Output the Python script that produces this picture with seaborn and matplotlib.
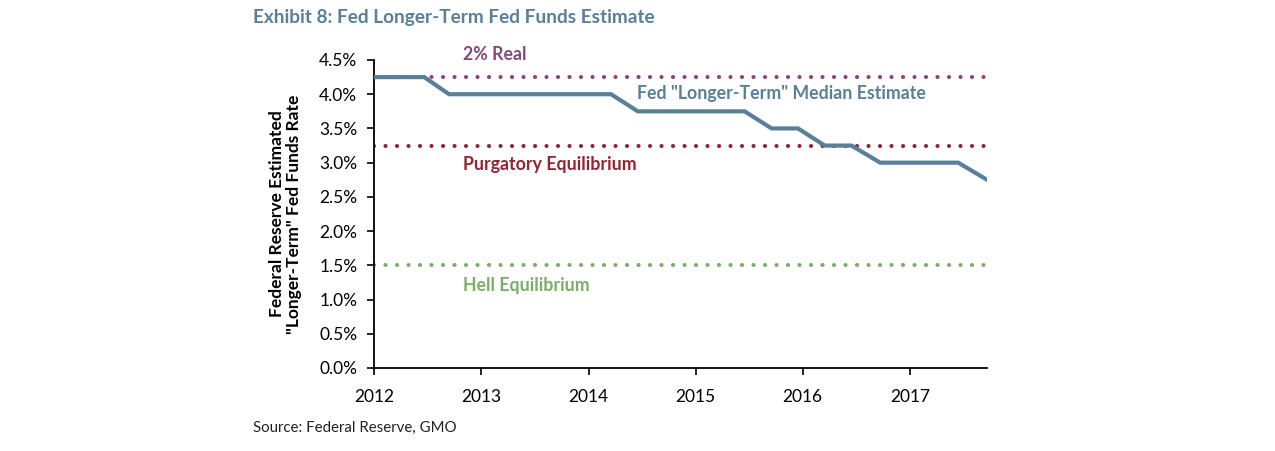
import matplotlib
matplotlib.use("Agg")
import matplotlib.pyplot as plt
import seaborn as sns
import pandas as pd

# ---- data ----
fomc_dates = ["2012-01-01", "2012-04-25", "2012-06-20", "2012-09-13", "2012-12-12",
              "2013-03-20", "2013-06-19", "2013-09-18", "2013-12-18",
              "2014-03-19", "2014-06-18", "2014-09-17", "2014-12-17",
              "2015-03-18", "2015-06-17", "2015-09-17", "2015-12-16",
              "2016-03-16", "2016-06-15", "2016-09-21", "2016-12-14",
              "2017-03-15", "2017-06-14", "2017-09-20"]
median_estimate = [4.25, 4.25, 4.25, 4.00, 4.00,
                   4.00, 4.00, 4.00, 4.00,
                   4.00, 3.75, 3.75, 3.75,
                   3.75, 3.75, 3.50, 3.50,
                   3.25, 3.25, 3.00, 3.00,
                   3.00, 3.00, 2.75]
ref_names = ["2% Real", "Purgatory Equilibrium", "Hell Equilibrium"]
ref_levels = [4.25, 3.25, 1.50]
series_name = 'Fed "Longer-Term" Median Estimate'
year_ticks = [2012, 2013, 2014, 2015, 2016, 2017]
y_ticks = [0.0, 0.5, 1.0, 1.5, 2.0, 2.5, 3.0, 3.5, 4.0, 4.5]

df = pd.DataFrame({"date": pd.to_datetime(fomc_dates), "rate": median_estimate})

# ---- style ----
sns.set_theme(style="ticks")
plt.rcParams["font.family"] = ["Lato", "DejaVu Sans"]

BLUE = "#5A7F98"
PURPLE = "#87477A"
RED = "#922533"
GREEN = "#7BAE67"
ref_colors = [PURPLE, RED, GREEN]

fig = plt.figure(figsize=(12.75, 4.51), dpi=100)
ax = fig.add_axes([374 / 1275, 1 - 368 / 451, (987 - 374) / 1275, (368 - 60) / 451])

for lvl, col in zip(ref_levels, ref_colors):
    ax.axhline(lvl, color=col, lw=3.0, linestyle=(0, (0.01, 2.75)),
               dash_capstyle="round", zorder=2)

sns.lineplot(data=df, x="date", y="rate", ax=ax, color=BLUE, lw=3.0,
             solid_joinstyle="miter", zorder=3)

ax.set_xlim(pd.Timestamp("2012-01-01"), df["date"].iloc[-1])
ax.set_ylim(0, 4.5)
ax.set_yticks(y_ticks)
ax.set_yticklabels([f"{v:.1f}%" for v in y_ticks], fontsize=12.5)
ax.set_xticks([pd.Timestamp(f"{y}-01-01") for y in year_ticks])
ax.set_xticklabels([str(y) for y in year_ticks], fontsize=12.5)
ax.tick_params(axis="both", direction="out", length=5, width=1.2, color="black",
               labelcolor="black")
ax.tick_params(axis="y", pad=7)
ax.tick_params(axis="x", pad=10)
for s in ["top", "right"]:
    ax.spines[s].set_visible(False)
for s in ["left", "bottom"]:
    ax.spines[s].set_color("black")
    ax.spines[s].set_linewidth(1.3)
ax.set_xlabel("")
ax.set_ylabel('Federal Reserve Estimated\n"Longer-Term" Fed Funds Rate',
              fontsize=12.5, fontweight="bold", color="black", labelpad=12,
              linespacing=1.1)

# annotations
tx = (463 - 374) / (987 - 374)
ax.text(tx, (368 - 55) / 308, ref_names[0], transform=ax.transAxes, color=PURPLE,
        fontsize=12.8, fontweight="bold", ha="left", va="center", clip_on=False)
ax.text(tx, (368 - 165) / 308, ref_names[1], transform=ax.transAxes, color=RED,
        fontsize=12.8, fontweight="bold", ha="left", va="center")
ax.text(tx, (368 - 285) / 308, ref_names[2], transform=ax.transAxes, color=GREEN,
        fontsize=12.8, fontweight="bold", ha="left", va="center")
ax.text((637 - 374) / 613, (368 - 94) / 308, series_name, transform=ax.transAxes,
        color=BLUE, fontsize=12.8, fontweight="bold", ha="left", va="center")

fig.text(253 / 1275, 1 - 18 / 451, "Exhibit 8: Fed Longer-Term Fed Funds Estimate",
         color=BLUE, fontsize=13.7, fontweight="bold", ha="left", va="center")
fig.text(253 / 1275, 1 - 428 / 451, "Source: Federal Reserve, GMO",
         color="#222222", fontsize=10.8, ha="left", va="center")

fig.savefig("out.png", dpi=100)
